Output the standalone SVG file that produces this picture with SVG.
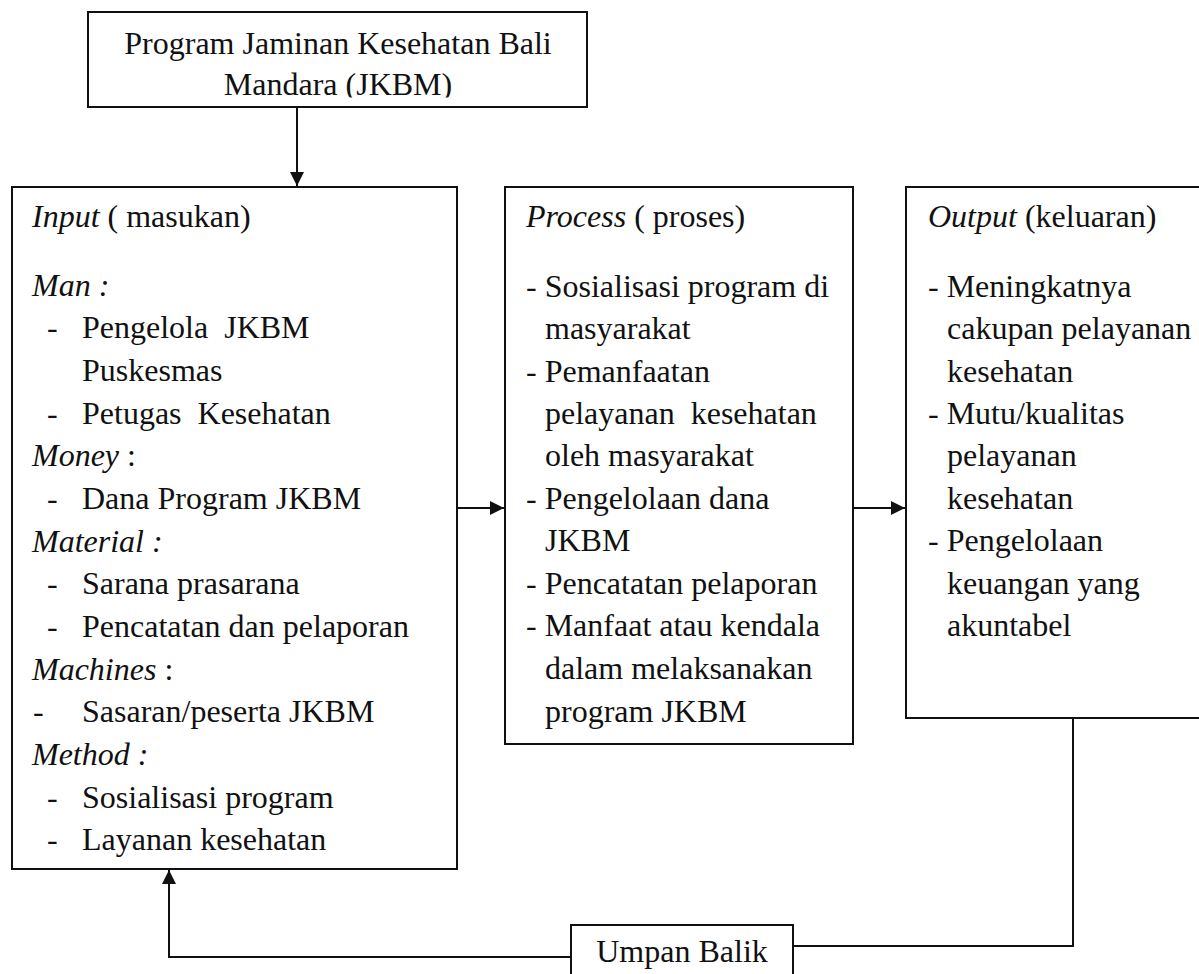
<svg xmlns="http://www.w3.org/2000/svg" width="1199" height="974" viewBox="0 0 1199 974">
<style>
  .box { fill: none; stroke: #111; stroke-width: 2; }
  .conn { fill: none; stroke: #111; stroke-width: 2; }
  text { font-family: "Liberation Serif", "Times New Roman", serif; font-size: 32px; fill: #111; }
  .c { text-anchor: middle; }
  .i { font-style: italic; }
</style>
<defs>
  <marker id="ah" viewBox="0 0 14 14" refX="14" refY="7" markerWidth="14" markerHeight="14" orient="auto" markerUnits="userSpaceOnUse">
    <path d="M0,0 L14,7 L0,14 z" fill="#111"/>
  </marker>
  <clipPath id="topclip"><rect x="88" y="12" width="500" height="85.5"/></clipPath>
</defs>
<rect width="1199" height="974" fill="#fff"/>

<g id="connectors">
  <line class="conn" x1="297" y1="107" x2="297" y2="186" marker-end="url(#ah)"/>
  <line class="conn" x1="457" y1="508" x2="504" y2="508" marker-end="url(#ah)"/>
  <line class="conn" x1="853" y1="508" x2="905" y2="508" marker-end="url(#ah)"/>
  <polyline class="conn" points="1073,718 1073,946 793,946"/>
  <polyline class="conn" points="571,957 169,957 169,870" marker-end="url(#ah)"/>
</g>

<g id="program">
  <rect class="box" x="88" y="12" width="499" height="95"/>
  <g clip-path="url(#topclip)">
    <text class="c" x="338" y="54">Program Jaminan Kesehatan Bali</text>
    <text class="c" x="338" y="95">Mandara (JKBM)</text>
  </g>
</g>

<g id="input">
  <rect class="box" x="12" y="187" width="445" height="682"/>
  <text x="32" y="227" xml:space="preserve"><tspan class="i">Input</tspan> ( masukan)</text>
  <text class="i" x="32" y="296">Man :</text>
  <text x="47" y="338">-</text><text x="82" y="338" xml:space="preserve">Pengelola  JKBM</text>
  <text x="82" y="381">Puskesmas</text>
  <text x="47" y="424">-</text><text x="82" y="424" xml:space="preserve">Petugas  Kesehatan</text>
  <text x="32" y="466"><tspan class="i">Money</tspan> :</text>
  <text x="47" y="509">-</text><text x="82" y="509">Dana Program JKBM</text>
  <text class="i" x="32" y="552">Material :</text>
  <text x="47" y="594">-</text><text x="82" y="594">Sarana prasarana</text>
  <text x="47" y="637">-</text><text x="82" y="637">Pencatatan dan pelaporan</text>
  <text x="32" y="680"><tspan class="i">Machines</tspan> :</text>
  <text x="33" y="722">-</text><text x="82" y="722">Sasaran/peserta JKBM</text>
  <text class="i" x="32" y="765">Method :</text>
  <text x="47" y="808">-</text><text x="82" y="808">Sosialisasi program</text>
  <text x="47" y="850">-</text><text x="82" y="850">Layanan kesehatan</text>
</g>

<g id="process">
  <rect class="box" x="505" y="187" width="348" height="557"/>
  <text x="526" y="227" xml:space="preserve"><tspan class="i">Process</tspan> ( proses)</text>
  <text x="526" y="297">- Sosialisasi program di</text>
  <text x="545" y="339">masyarakat</text>
  <text x="526" y="382">- Pemanfaatan</text>
  <text x="545" y="424" xml:space="preserve">pelayanan  kesehatan</text>
  <text x="545" y="466">oleh masyarakat</text>
  <text x="526" y="509">- Pengelolaan dana</text>
  <text x="545" y="551">JKBM</text>
  <text x="526" y="594">- Pencatatan pelaporan</text>
  <text x="526" y="636">- Manfaat atau kendala</text>
  <text x="545" y="679">dalam melaksanakan</text>
  <text x="545" y="722">program JKBM</text>
</g>

<g id="output">
  <rect class="box" x="906" y="187" width="310" height="531"/>
  <text x="928" y="227"><tspan class="i">Output</tspan> (keluaran)</text>
  <text x="928" y="297">- Meningkatnya</text>
  <text x="947" y="339">cakupan pelayanan</text>
  <text x="947" y="382">kesehatan</text>
  <text x="928" y="424">- Mutu/kualitas</text>
  <text x="947" y="466">pelayanan</text>
  <text x="947" y="509">kesehatan</text>
  <text x="928" y="551">- Pengelolaan</text>
  <text x="947" y="594">keuangan yang</text>
  <text x="947" y="636">akuntabel</text>
</g>

<g id="umpan-balik">
  <rect class="box" x="571" y="925" width="222" height="70"/>
  <text class="c" x="682" y="962">Umpan Balik</text>
</g>
</svg>
